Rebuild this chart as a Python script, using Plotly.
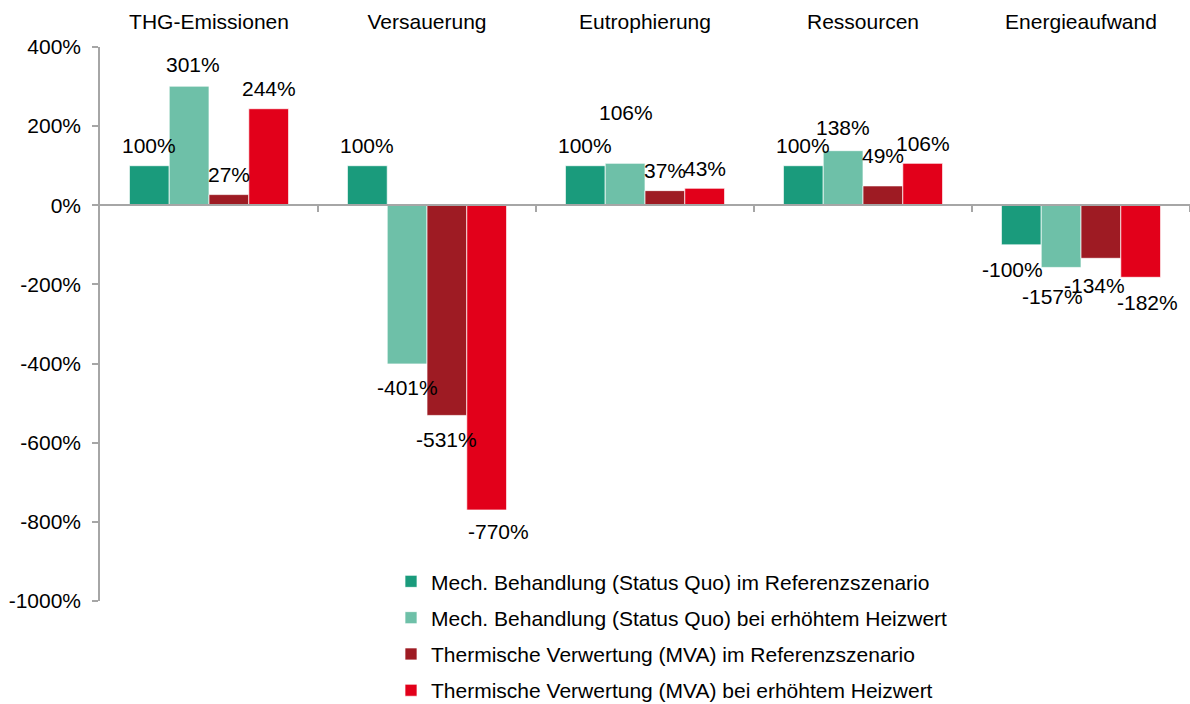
import plotly.graph_objects as go

# Impact categories (top axis) and the four scenarios
categories = ["THG-Emissionen", "Versauerung", "Eutrophierung", "Ressourcen", "Energieaufwand"]
series_names = [
    "Mech. Behandlung (Status Quo) im Referenzszenario",
    "Mech. Behandlung (Status Quo) bei erhöhtem Heizwert",
    "Thermische Verwertung (MVA) im Referenzszenario",
    "Thermische Verwertung (MVA) bei erhöhtem Heizwert",
]
mech_ref = [100, 100, 100, 100, -100]
mech_heiz = [301, -401, 106, 138, -157]
mva_ref = [27, -531, 37, 49, -134]
mva_heiz = [244, -770, 43, 106, -182]
series_values = [mech_ref, mech_heiz, mva_ref, mva_heiz]

y_ticks = [400, 200, 0, -200, -400, -600, -800, -1000]
y_tick_labels = [f"{v}%" for v in y_ticks]

# Styling
colors = ["#1A9B7C", "#6EC0A8", "#9E1B23", "#E2001A"]
FONT = "Liberation Sans, Arial, sans-serif"
FS = 21
Y_MIN, Y_MAX = -1000, 400
BARGAP = 0.27
bar_w = (1 - BARGAP) / len(series_values)   # width of one bar in category units

# Small pixel nudges for individual value labels (series, category) -> (dx, dy)
label_nudge = {
    (1, 0): (4, -2),
    (3, 1): (12, -2),
    (1, 2): (1, -31),
    (1, 3): (0, -3),
    (2, 3): (0, -10),
    (0, 4): (-9, 1),
    (1, 4): (-9, 5),
    (2, 4): (-6, 3),
    (3, 4): (7, 1),
}

fig = go.Figure()
for i, (name, vals) in enumerate(zip(series_names, series_values)):
    fig.add_trace(go.Bar(
        x=categories, y=vals, name=name,
        marker=dict(color=colors[i], line=dict(color="rgba(255,255,255,0.7)", width=1)),
        legendgroup=f"g{i}",
    ))

annotations = []
for i, vals in enumerate(series_values):
    for j, v in enumerate(vals):
        dx, dy = label_nudge.get((i, j), (0, 0))
        base = 20 if v >= 0 else -24
        annotations.append(dict(
            x=j + (i - 1.5) * bar_w, y=v, xref="x", yref="y",
            text=f"{v}%", showarrow=False,
            xshift=dx, yshift=base - dy,
            font=dict(family=FONT, size=FS, color="#000000"),
        ))

zero_pos = (0 - Y_MIN) / (Y_MAX - Y_MIN)

fig.update_layout(
    width=1190, height=704,
    margin=dict(l=100, r=0, t=47, b=103, autoexpand=False),
    paper_bgcolor="white", plot_bgcolor="white",
    barmode="group", bargap=BARGAP, bargroupgap=0,
    font=dict(family=FONT, size=FS, color="#000000"),
    showlegend=True,
    legend=dict(
        x=(391 - 100) / 1090, xanchor="left",
        y=(600 - 710) / 553, yanchor="bottom",
        bgcolor="rgba(0,0,0,0)",
        font=dict(family=FONT, size=FS, color="#000000"),
        tracegroupgap=6, traceorder="grouped",
    ),
    xaxis=dict(
        type="category", side="top", range=[-0.5, 4.5],
        showline=False, showgrid=False, zeroline=False,
        ticks="", ticklabelstandoff=13,
        tickfont=dict(family=FONT, size=FS, color="#000000"),
    ),
    xaxis2=dict(
        overlaying="x", anchor="free", position=zero_pos,
        type="linear", range=[-0.5, 4.5],
        tickmode="array", tickvals=[0.5, 1.5, 2.5, 3.5, 4.5],
        ticks="outside", ticklen=6, tickcolor="#A6A6A6", tickwidth=1.5,
        showticklabels=False, showline=True, linecolor="#A6A6A6", linewidth=1.5,
        showgrid=False, zeroline=False,
    ),
    yaxis=dict(
        range=[Y_MIN, Y_MAX], tickmode="array",
        tickvals=y_ticks, ticktext=y_tick_labels,
        showgrid=False, zeroline=False,
        showline=True, linecolor="#A6A6A6", linewidth=1.5,
        ticks="outside", ticklen=6, tickcolor="#A6A6A6", tickwidth=1.5,
        ticklabelstandoff=7,
        tickfont=dict(family=FONT, size=FS, color="#000000"),
    ),
    annotations=annotations,
)

# invisible trace to register the overlay axis
fig.add_trace(go.Scatter(x=[], y=[], xaxis="x2", showlegend=False, hoverinfo="skip"))

fig.write_html("out.html")
